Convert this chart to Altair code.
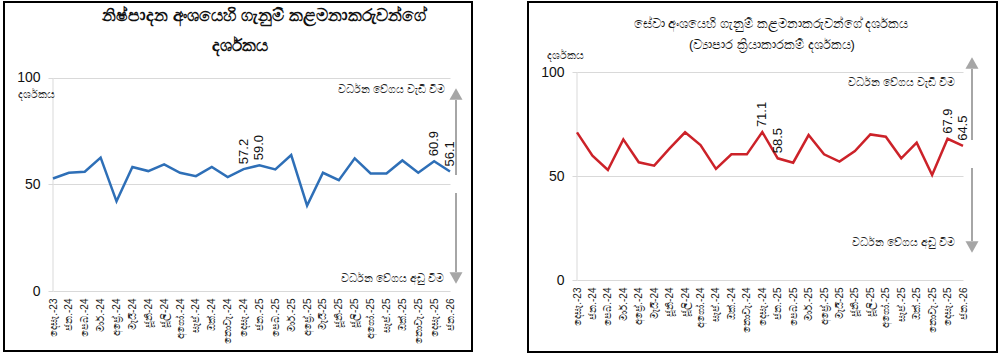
import altair as alt
import pandas as pd

months = ["දෙසැ.-23", "ජන.-24", "පෙබ.-24", "මාර්.-24", "අප්‍රේ.-24", "මැයි-24",
          "ජූනි-24", "ජූලි-24", "අගෝ.-24", "සැප්.-24", "ඔක්.-24", "නොවැ.-24",
          "දෙසැ.-24", "ජන.-25", "පෙබ.-25", "මාර්.-25", "අප්‍රේ.-25", "මැයි-25",
          "ජූනි-25", "ජූලි-25", "අගෝ.-25", "සැප්.-25", "ඔක්.-25", "නොවැ.-25",
          "දෙසැ.-25", "ජන.-26"]

manufacturing = [52.8, 55.5, 56.0, 62.6, 42.1, 58.2, 56.3, 59.4, 55.5, 53.9, 58.2, 53.5,
                 57.2, 59.0, 57.1, 63.8, 40.1, 55.5, 52.0, 62.3, 55.2, 55.2, 61.3, 55.5,
                 60.9, 56.1]

services = [71.0, 59.8, 52.9, 67.6, 56.6, 55.0, 63.3, 71.0, 64.9, 53.4, 60.4, 60.4,
            71.1, 58.5, 56.4, 69.7, 60.4, 56.9, 62.0, 70.0, 68.9, 58.5, 66.0, 50.5,
            67.9, 64.5]

labelled = ["දෙසැ.-24", "ජන.-25", "දෙසැ.-25", "ජන.-26"]

y_ticks = [0, 50, 100]

title_mfg = ["නිෂ්පාදන අංශයෙහි ගැනුම් කළමනාකරුවන්ගේ", "දර්ශකය"]
title_svc = ["සේවා අංශයෙහි ගැනුම් කළමනාකරුවන්ගේ දර්ශකය", "(ව්‍යාපාර ක්‍රියාකාරකම් දර්ශකය)"]
y_title = "දර්ශකය"
up_text = "වර්ධන වේගය වැඩි වීම"
down_text = "වර්ධන වේගය අඩු වීම"

FONT = "Liberation Sans"
GRID = "#d9d9d9"
ARROW = "#a6a6a6"

one = pd.DataFrame({"a": [0]})


def panel(values, color, w, h, ymax, box, titles, title_pos, title_size, title_weight,
          ytitle_pos, arrow_x, up_shaft, up_head, down_shaft, down_head,
          up_txt_pos, down_txt_pos):
    df = pd.DataFrame({"month": months, "value": values})
    df["lab"] = df["month"].isin(labelled)
    x = alt.X("month:N", sort=months,
              scale=alt.Scale(type="point", padding=0),
              axis=alt.Axis(title=None, labelAngle=270, labelFontSize=10,
                            labelPadding=7, ticks=False, domain=False, grid=False,
                            labelColor="#222", labelFont=FONT))
    y = alt.Y("value:Q", scale=alt.Scale(domain=[0, ymax], nice=False, zero=True),
              axis=alt.Axis(title=None, values=y_ticks, grid=True, gridColor=GRID,
                            domain=False, tickColor=GRID, tickSize=5,
                            labelPadding=8, labelFontSize=14, labelColor="#111",
                            labelFont=FONT))
    base = alt.Chart(df)
    line = base.mark_line(color=color, strokeWidth=2.5, clip=False).encode(x=x, y=y)
    labels = base.transform_filter("datum.lab").mark_text(
        angle=270, align="left", baseline="middle", dx=5, fontSize=13,
        font=FONT, color="#111").encode(
        x=alt.X("month:N", sort=months), y="value:Q",
        text=alt.Text("value:Q", format=".1f"))

    oc = alt.Chart(one)
    border = oc.mark_rect(fill="white", fillOpacity=0, stroke="black",
                          strokeWidth=2).encode(
        x=alt.value(box[0]), x2=alt.value(box[1]),
        y=alt.value(box[2]), y2=alt.value(box[3]))
    axis_line = oc.mark_rule(color=GRID, strokeWidth=1).encode(
        x=alt.value(0), y=alt.datum(100), y2=alt.datum(0))
    layers = [border, axis_line]
    for t, (tx, ty) in zip(titles, title_pos):
        layers.append(oc.mark_text(fontSize=title_size, fontWeight=title_weight,
                                   font=FONT, color="#111", align="center",
                                   baseline="middle").encode(
            x=alt.value(tx), y=alt.value(ty), text=alt.value(t)))
    layers.append(oc.mark_text(fontSize=11, font=FONT, color="#222", align="left",
                               baseline="middle").encode(
        x=alt.value(ytitle_pos[0]), y=alt.value(ytitle_pos[1]),
        text=alt.value(y_title)))
    layers.append(oc.mark_rule(color=ARROW, strokeWidth=2).encode(
        x=alt.value(arrow_x), y=alt.value(up_shaft[0]), y2=alt.value(up_shaft[1])))
    layers.append(oc.mark_rule(color=ARROW, strokeWidth=2).encode(
        x=alt.value(arrow_x), y=alt.value(down_shaft[0]), y2=alt.value(down_shaft[1])))
    layers.append(oc.mark_point(shape="triangle-up", filled=True, color=ARROW,
                                size=170, opacity=1).encode(
        x=alt.value(arrow_x), y=alt.value(up_head)))
    layers.append(oc.mark_point(shape="triangle-down", filled=True, color=ARROW,
                                size=170, opacity=1).encode(
        x=alt.value(arrow_x), y=alt.value(down_head)))
    layers.append(oc.mark_text(fontSize=11, font=FONT, color="#222", align="right",
                               baseline="middle").encode(
        x=alt.value(up_txt_pos[0]), y=alt.value(up_txt_pos[1]),
        text=alt.value(up_text)))
    layers.append(oc.mark_text(fontSize=11, font=FONT, color="#222", align="right",
                               baseline="middle").encode(
        x=alt.value(down_txt_pos[0]), y=alt.value(down_txt_pos[1]),
        text=alt.value(down_text)))
    layers += [line, labels]
    return alt.layer(*layers).properties(width=w, height=h)


left = panel(manufacturing, "#2e6fb7", 397, 219, 102.8,
             box=(-49, 419, -70, 279),
             titles=title_mfg, title_pos=[(211, -56), (187, -26)],
             title_size=17, title_weight="bold",
             ytitle_pos=(-35, 23), arrow_x=403,
             up_shaft=(28, 103), up_head=22, down_shaft=(121, 200), down_head=206,
             up_txt_pos=(392, 18), down_txt_pos=(391, 207))

right = panel(services, "#cc2229", 386, 208, 100,
              box=(-49, 420, -70, 280),
              titles=title_svc, title_pos=[(194, -48), (195, -27)],
              title_size=13, title_weight="normal",
              ytitle_pos=(-30, -16), arrow_x=395,
              up_shaft=(-3, 68), up_head=-9, down_shaft=(96, 169), down_head=175,
              up_txt_pos=(378, 11), down_txt_pos=(378, 171))

chart = alt.hconcat(left, right, spacing=54).properties(
    padding={"left": 3, "top": 1, "right": 0, "bottom": 0},
    background="white"
).configure_view(strokeWidth=0)

chart.save("out.html", embed_options={"renderer": "svg", "actions": False})
